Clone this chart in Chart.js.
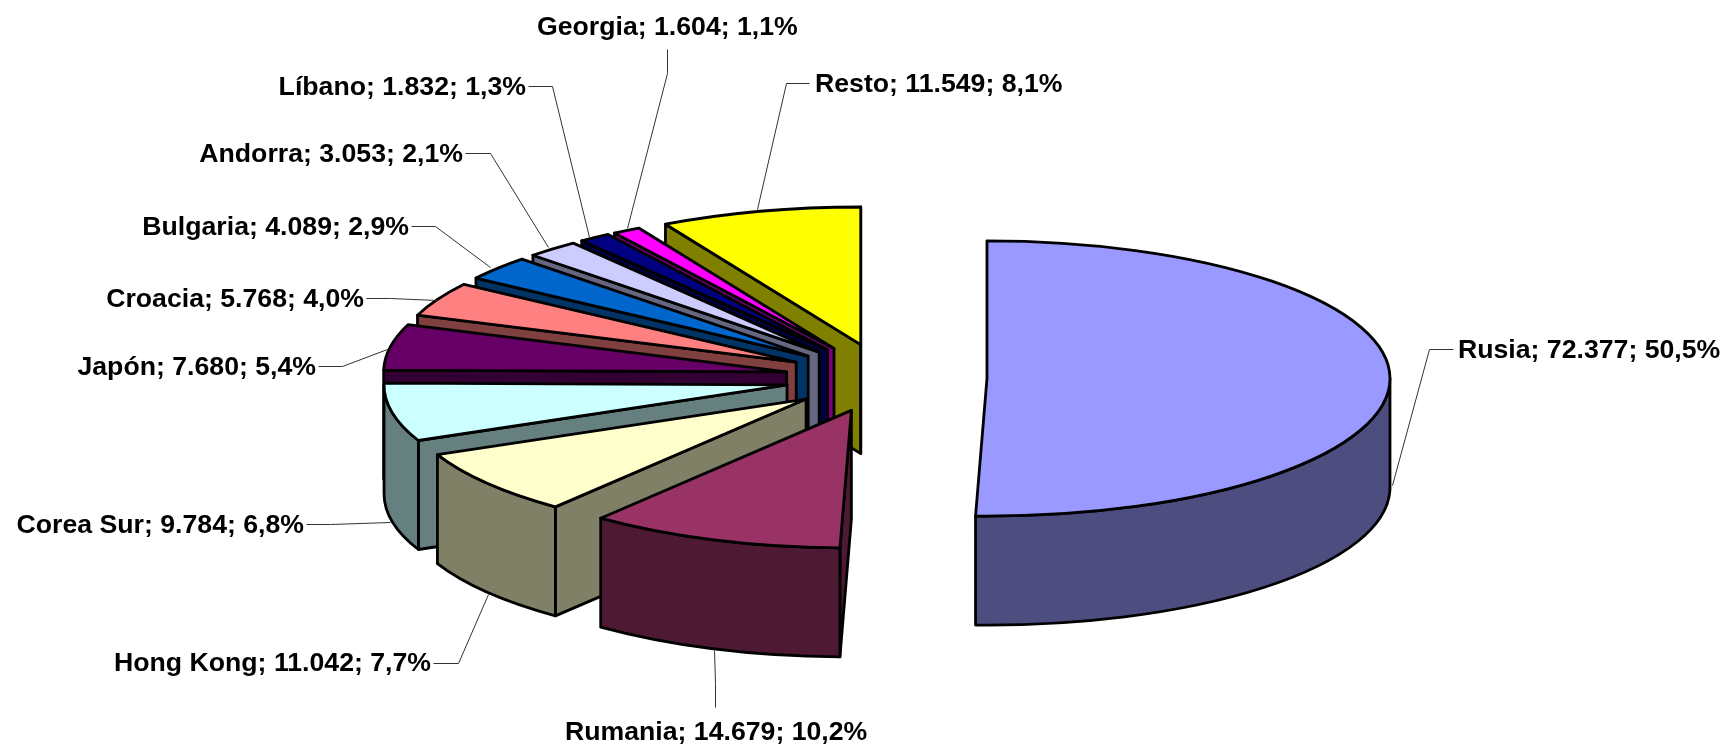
<!DOCTYPE html>
<html><head><meta charset="utf-8">
<style>html,body{margin:0;padding:0;background:#fff}canvas{display:block}</style>
<script src="https://cdn.jsdelivr.net/npm/chart.js@4"></script>
</head><body>
<canvas id="c" width="1728" height="747"></canvas>
<script>
const categories = ['Rusia','Rumania','Hong Kong','Corea Sur','Japón','Croacia','Bulgaria','Andorra','Líbano','Georgia','Resto'];
const values = [72377,14679,11042,9784,7680,5768,4089,3053,1832,1604,11549];
const percents = ['50,5%','10,2%','7,7%','6,8%','5,4%','4,0%','2,9%','2,1%','1,3%','1,1%','8,1%'];
const topColors = ['#9999FF','#993366','#FFFFCC','#CCFFFF','#660066','#FF8080','#0066CC','#CCCCFF','#000080','#FF00FF','#FFFF00'];
const wallColors = ['#4D4D80','#4D1933','#808066','#668080','#330033','#804040','#003366','#666680','#000040','#800080','#808000'];

// layout of the 3D projection
const squash = 0.3415, depth = 109, explode = 101, pieRadius = 403;
const centre = {x: 886, y: 378};

// label anchor [x, y, align] and leader polyline, in page pixels
const labelPos = [
  [1458,351,'left'],[565,733,'left'],[431,664,'right'],[304,526,'right'],[316,368,'right'],
  [364,300,'right'],[409,228,'right'],[463,155,'right'],[526,88,'right'],[537,28,'left'],[815,85,'left']
];
const leaders = [
  [[1453,349],[1429,349],[1392,485]],
  [[715,707],[715,683],[714,650]],
  [[433,663],[458,663],[488,594]],
  [[306,524],[330,524],[390,522]],
  [[318,366],[342,366],[387,349]],
  [[366,298],[390,298],[437,300]],
  [[411,226],[435,226],[490,267]],
  [[465,153],[490,153],[548,247]],
  [[528,86],[552,86],[589,237]],
  [[667,49],[667,73],[627,228]],
  [[809,83],[786,83],[757,209]]
];

const fmt = v => String(v).replace(/\B(?=(\d{3})+$)/g,'.');
const labels3d = {
  id:'pie3d',
  beforeDatasetsDraw(chart){
    const ctx = chart.ctx;
    const arcs = chart.getDatasetMeta(0).data;
    const order = arcs.map((a,i)=>i).sort((p,q)=>
      Math.sin((arcs[p].startAngle+arcs[p].endAngle)/2) - Math.sin((arcs[q].startAngle+arcs[q].endAngle)/2));
    ctx.save();
    ctx.lineJoin='round';
    ctx.lineWidth=2.8;
    ctx.strokeStyle='#000';
    for(const i of order){
      const a = arcs[i];
      const mid=(a.startAngle+a.endAngle)/2;
      const ox=a.x+Math.cos(mid)*explode, oy=a.y+Math.sin(mid)*explode*squash;
      const r=a.outerRadius, ry=r*squash;
      const px=t=>ox+r*Math.cos(t), py=t=>oy+ry*Math.sin(t);
      ctx.fillStyle=wallColors[i];
      const radial=t=>{
        ctx.beginPath();
        ctx.moveTo(ox,oy);ctx.lineTo(px(t),py(t));ctx.lineTo(px(t),py(t)+depth);ctx.lineTo(ox,oy+depth);
        ctx.closePath();ctx.fill();ctx.stroke();
      };
      if(Math.cos(a.startAngle)<0) radial(a.startAngle);
      if(Math.cos(a.endAngle)>0) radial(a.endAngle);
      const w0=Math.max(a.startAngle,0), w1=Math.min(a.endAngle,Math.PI);
      if(w1>w0){
        ctx.beginPath();
        ctx.ellipse(ox,oy,r,ry,0,w0,w1);
        ctx.ellipse(ox,oy+depth,r,ry,0,w1,w0,true);
        ctx.closePath();ctx.fill();ctx.stroke();
      }
      // top face: the library's own arc, projected
      ctx.save();
      ctx.translate(ox,oy);ctx.scale(1,squash);ctx.translate(-a.x,-a.y);
      a.draw(ctx);
      ctx.restore();
      ctx.beginPath();
      ctx.moveTo(ox,oy);
      ctx.ellipse(ox,oy,r,ry,0,a.startAngle,a.endAngle);
      ctx.closePath();ctx.stroke();
    }
    ctx.restore();
    return false;
  },
  afterDraw(chart){
    const ctx=chart.ctx;
    ctx.save();
    ctx.strokeStyle='#333';ctx.lineWidth=1;
    for(const l of leaders){
      ctx.beginPath();
      l.forEach((p,i)=>i?ctx.lineTo(p[0]+.5,p[1]+.5):ctx.moveTo(p[0]+.5,p[1]+.5));
      ctx.stroke();
    }
    ctx.fillStyle='#000';
    ctx.font='bold 26.67px "Liberation Sans", Arial, sans-serif';
    ctx.textBaseline='middle';
    categories.forEach((c,i)=>{
      const [x,y,al]=labelPos[i];
      ctx.textAlign=al;
      ctx.fillText(`${c}; ${fmt(values[i])}; ${percents[i]}`,x,y);
    });
    ctx.restore();
  }
};
new Chart(document.getElementById('c'),{
  type:'pie',
  data:{labels:categories,datasets:[{data:values,backgroundColor:topColors,borderWidth:0}]},
  options:{
    responsive:false,animation:false,radius:pieRadius,
    layout:{padding:{left:2*centre.x-1728,top:2*centre.y-747}},
    plugins:{legend:{display:false},tooltip:{enabled:false}},
    events:[]
  },
  plugins:[labels3d]
});
</script>
</body></html>
